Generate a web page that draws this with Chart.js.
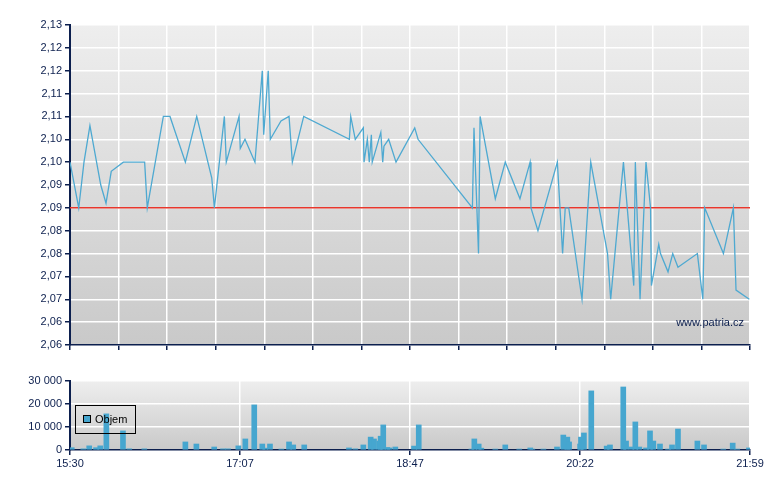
<!DOCTYPE html>
<html>
<head>
<meta charset="utf-8">
<script src="https://cdn.jsdelivr.net/npm/chart.js@4.4.1/dist/chart.umd.min.js"></script>
<style>
	body { margin: 0; background: #fff; width: 780px; height: 490px; overflow: hidden; position: relative; }
	#price { position: absolute; left: 0; top: 0; }
	#vol { position: absolute; left: 0; top: 365px; }
</style>
</head>
<body>
<canvas id="price" width="780" height="360"></canvas>
<canvas id="vol" width="780" height="125"></canvas>
<script>
// session (minutes are counted from the session start)
const sessionStart = "15:30";
const sessionEnd = "21:59";
const xTickLabels = ["15:30", "17:07", "18:47", "20:22", "21:59"];

// price (Kč)
const priceMins = [0, 5.0, 8.0, 11.4, 17.6, 20.6, 23.6, 30.5, 42.7, 44.2, 53.4, 57.2, 66.0, 72.5, 81.1, 82.6, 88.3, 89.4, 96.7, 97.4,
	100.1, 105.8, 110.0, 110.8, 113.4, 114.6, 120.7, 125.3, 127.2, 133.7, 159.8, 160.6, 163.2, 167.8, 168.2, 170.1, 171.2, 172.4, 172.9, 177.8,
	178.9, 179.6, 182.3, 186.5, 197.2, 199.1, 230.2, 231.1, 233.7, 234.6, 243.3, 249.0, 257.4, 263.2, 263.7, 267.7, 278.8, 281.8, 283.3, 285.3,
	292.9, 297.9, 307.5, 309.3, 316.6, 322.5, 323.4, 326.1, 329.5, 332.1, 332.6, 336.8, 337.8, 342.1, 344.8, 347.8, 358.9, 362.0, 363.1, 373.8,
	379.5, 381.0, 388.6];
const priceValues = [2.100, 2.090, 2.100, 2.108, 2.095, 2.091, 2.098, 2.100, 2.100, 2.090, 2.110, 2.110, 2.100, 2.110, 2.0965, 2.090, 2.110, 2.100, 2.110, 2.103,
	2.105, 2.100, 2.120, 2.106, 2.120, 2.105, 2.109, 2.110, 2.100, 2.110, 2.105, 2.110, 2.105, 2.1075, 2.100, 2.105, 2.100, 2.106, 2.100, 2.1065,
	2.100, 2.1035, 2.105, 2.100, 2.1075, 2.105, 2.090, 2.1075, 2.080, 2.110, 2.092, 2.100, 2.092, 2.100, 2.090, 2.085, 2.100, 2.080, 2.090, 2.090,
	2.070, 2.100, 2.080, 2.070, 2.100, 2.073, 2.100, 2.070, 2.100, 2.090, 2.073, 2.082, 2.080, 2.076, 2.080, 2.077, 2.080, 2.070, 2.090, 2.080,
	2.090, 2.072, 2.070];
const refLevel = 2.09;
const priceTickLabels = ["2,06", "2,06", "2,07", "2,07", "2,08", "2,08", "2,09", "2,09", "2,10", "2,10", "2,11", "2,11", "2,12", "2,12", "2,13"];
const priceMin = 2.06, priceStep = 0.005;

// volume
const volLabel = "Objem";
const volMins = [1.0, 7.6, 11.0, 14.9, 17.3, 20.8, 30.3, 33.9, 42.5, 66.0, 72.3, 82.5, 87.5, 90.4, 96.3, 100.3, 105.4, 110.0, 111.7, 114.4,
	120.9, 125.3, 127.7, 134.0, 159.6, 163.2, 167.8, 172.0, 173.9, 176.9, 177.7, 179.2, 181.5, 182.7, 186.1, 196.8, 199.5, 229.6, 231.3, 233.8,
	235.3, 243.3, 249.0, 257.0, 263.3, 264.5, 270.8, 278.6, 282.2, 284.5, 285.5, 291.8, 292.3, 294.0, 298.2, 307.0, 308.9, 316.5, 318.1, 321.1,
	323.4, 325.7, 329.5, 331.8, 333.7, 337.5, 342.1, 344.4, 347.8, 358.9, 362.7, 373.7, 379.1, 381.7, 388.4];
const volValues = [1000, 500, 1800, 1000, 1800, 15700, 8300, 500, 500, 3500, 2600, 1300, 500, 500, 1800, 4800, 19600, 2600, 800, 2600,
	400, 3500, 2200, 2200, 900, 500, 2200, 5600, 4800, 3900, 6000, 10900, 1100, 900, 1300, 1700, 10900, 400, 4800, 2600,
	800, 400, 2200, 400, 900, 400, 400, 1300, 6500, 5600, 3500, 2600, 5600, 7400, 25700, 1700, 2200, 27400, 3900, 1300,
	12200, 1300, 900, 8300, 3900, 2600, 400, 2200, 9100, 3900, 2200, 400, 3000, 400, 900];
const volTickLabels = ["0", "10 000", "20 000", "30 000"];
const volMax = 30000, volStep = 10000;

const navy = "#0c1f4e";
const lineBlue = "#4ea9d1";
const barBlue = "#46a6cf";
const font = { family: "Liberation Sans, Arial, sans-serif", size: 11 };

function toMin(t) {
	const [h, m] = t.split(":").map(Number);
	return h * 60 + m;
}
const sessionLen = toMin(sessionEnd) - toMin(sessionStart);

const bgPlugin = {
	id: "bg",
	beforeDraw(chart) {
		const { ctx, chartArea: a } = chart;
		const g = ctx.createLinearGradient(0, a.top, 0, a.bottom);
		g.addColorStop(0, "#eeeeee");
		g.addColorStop(1, "#c9c9c9");
		ctx.save();
		ctx.fillStyle = g;
		ctx.fillRect(a.left, a.top, a.right - a.left, a.bottom - a.top);
		ctx.restore();
	},
};

const watermark = {
	id: "watermark",
	afterDraw(chart) {
		const { ctx, chartArea: a } = chart;
		ctx.save();
		ctx.font = "11px " + font.family;
		ctx.fillStyle = navy;
		ctx.textAlign = "right";
		ctx.textBaseline = "middle";
		ctx.fillText("www.patria.cz", a.right - 6, a.bottom - 22);
		ctx.restore();
	},
};

const volLegend = {
	id: "volLegend",
	afterDatasetsDraw(chart) {
		const { ctx } = chart;
		const ds = chart.data.datasets[0];
		ctx.save();
		ctx.strokeStyle = "#000";
		ctx.lineWidth = 1;
		ctx.strokeRect(75.5, 40.5, 60, 28);
		ctx.fillStyle = ds.backgroundColor;
		ctx.fillRect(83.5, 50.5, 7, 7);
		ctx.strokeRect(83.5, 50.5, 7, 7);
		ctx.fillStyle = "#000";
		ctx.font = "11px " + font.family;
		ctx.textBaseline = "middle";
		ctx.fillText(ds.label, 95, 55);
		ctx.restore();
	},
};

const priceChart = new Chart(document.getElementById("price"), {
	type: "line",
	data: {
		datasets: [
			{
				data: priceMins.map((m, i) => ({ x: m, y: priceValues[i] })),
				borderColor: lineBlue,
				borderWidth: 1.3,
				pointRadius: 0,
				tension: 0,
			},
			{
				data: [{ x: 0, y: refLevel }, { x: sessionLen, y: refLevel }],
				borderColor: "#e8372c",
				borderWidth: 1.5,
				pointRadius: 0,
			},
		],
	},
	options: {
		responsive: false,
		animation: false,
		layout: { padding: { top: 25, right: 30, left: 0, bottom: 0 } },
		plugins: { legend: { display: false }, tooltip: { enabled: false } },
		scales: {
			x: {
				type: "linear",
				min: 0,
				max: sessionLen,
				afterBuildTicks: (s) => {
					s.ticks = Array.from({ length: 15 }, (_, i) => ({ value: (i * sessionLen) / 14 }));
				},
				afterFit: (s) => { s.height = 15; },
				ticks: { display: false },
				grid: { color: "#ffffff", lineWidth: 1.5, tickColor: navy, tickLength: 5 },
				border: { color: navy, width: 1.5 },
			},
			y: {
				min: priceMin,
				max: priceMin + priceStep * (priceTickLabels.length - 1),
				afterBuildTicks: (s) => {
					s.ticks = priceTickLabels.map((_, i) => ({ value: priceMin + i * priceStep }));
				},
				afterFit: (s) => { s.width = 70; },
				ticks: { color: navy, font, padding: 3, callback: (v, i) => priceTickLabels[i] },
				grid: { color: "#ffffff", lineWidth: 1.5, tickColor: navy, tickLength: 5 },
				border: { color: navy, width: 2 },
			},
		},
	},
	plugins: [bgPlugin, watermark],
});

const volChart = new Chart(document.getElementById("vol"), {
	type: "bar",
	data: {
		datasets: [
			{
				label: volLabel,
				data: volMins.map((m, i) => ({ x: m, y: volValues[i] })),
				backgroundColor: barBlue,
				barThickness: 5,
			},
		],
	},
	options: {
		responsive: false,
		animation: false,
		layout: { padding: { top: 16, right: 30, left: 0, bottom: 0 } },
		plugins: { legend: { display: false }, tooltip: { enabled: false } },
		scales: {
			x: {
				type: "linear",
				min: 0,
				max: sessionLen,
				offset: false,
				afterBuildTicks: (s) => {
					s.ticks = xTickLabels.map((_, i) => ({ value: (i * sessionLen) / (xTickLabels.length - 1) }));
				},
				afterFit: (s) => { s.height = 40; },
				ticks: { color: navy, font, padding: 2, maxRotation: 0, autoSkip: false, callback: (v, i) => xTickLabels[i] },
				grid: { offset: false, color: "#ffffff", lineWidth: 1.5, tickColor: navy, tickLength: 5 },
				border: { color: navy, width: 1.5 },
			},
			y: {
				min: 0,
				max: volMax,
				afterBuildTicks: (s) => {
					s.ticks = volTickLabels.map((_, i) => ({ value: i * volStep }));
				},
				afterFit: (s) => { s.width = 70; },
				ticks: { color: navy, font, padding: 3, callback: (v, i) => volTickLabels[i] },
				grid: { color: "#ffffff", lineWidth: 1.5, tickColor: navy, tickLength: 5 },
				border: { color: navy, width: 2 },
			},
		},
	},
	plugins: [bgPlugin, volLegend],
});
</script>
</body>
</html>
